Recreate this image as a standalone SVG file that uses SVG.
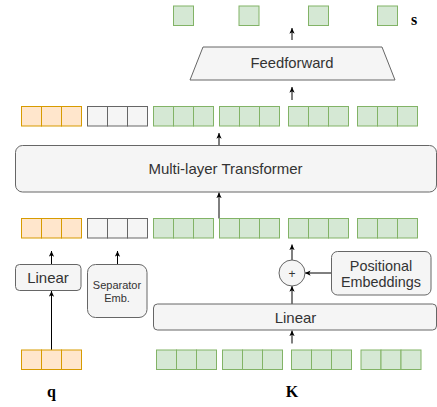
<svg xmlns="http://www.w3.org/2000/svg" width="437" height="407" viewBox="0 0 437 407">
<style>
.o{fill:#ffe6cc;stroke:#d79b00;stroke-width:1}
.g{fill:#f5f5f5;stroke:#666666;stroke-width:1}
.gr{fill:#d5e8d4;stroke:#82b366;stroke-width:1}
.box{fill:#f5f5f5;stroke:#666666;stroke-width:1}
.t{font-family:"Liberation Sans",Arial,sans-serif;fill:#333333;text-anchor:middle}
.m{font-family:"Liberation Serif","Times New Roman",serif;font-weight:bold;fill:#000;text-anchor:middle;font-size:16px}
.a{stroke:#000;stroke-width:1;fill:none;marker-end:url(#ah)}
</style>
<defs>
<marker id="ah" viewBox="0 0 8 8" refX="7.5" refY="4" markerWidth="6" markerHeight="6" markerUnits="userSpaceOnUse" orient="auto">
<path d="M0,0.5 L7.5,4 L0,7.5 L2,4 Z" fill="#000"/>
</marker>
<g id="c3o"><rect class="o" x="0" y="0" width="20" height="19.5"/><rect class="o" x="20" y="0" width="20" height="19.5"/><rect class="o" x="40" y="0" width="20" height="19.5"/></g>
<g id="c3g"><rect class="g" x="0" y="0" width="20" height="19.5"/><rect class="g" x="20" y="0" width="20" height="19.5"/><rect class="g" x="40" y="0" width="20" height="19.5"/></g>
<g id="c3gr"><rect class="gr" x="0" y="0" width="20" height="19.5"/><rect class="gr" x="20" y="0" width="20" height="19.5"/><rect class="gr" x="40" y="0" width="20" height="19.5"/></g>
</defs>

<g id="connectors">
<line class="a" x1="292" y1="40" x2="292" y2="28"/>
<line class="a" x1="292" y1="100" x2="292" y2="87"/>
<line class="a" x1="219" y1="145.5" x2="219" y2="133"/>
<line class="a" x1="219" y1="218.5" x2="219" y2="192.5"/>
<line class="a" x1="51.5" y1="264" x2="51.5" y2="251"/>
<line class="a" x1="117.5" y1="264" x2="117.5" y2="251"/>
<line class="a" x1="51.5" y1="350" x2="51.5" y2="291"/>
<line class="a" x1="292" y1="260" x2="292" y2="244.5"/>
<line class="a" x1="292" y1="304" x2="292" y2="286"/>
<line class="a" x1="331.5" y1="273" x2="305" y2="273"/>
<line class="a" x1="292" y1="343.5" x2="292" y2="330.5"/>
</g>

<g id="output-s">
<rect class="gr" x="173.5" y="6" width="20" height="19.5"/>
<rect class="gr" x="239" y="6" width="20" height="19.5"/>
<rect class="gr" x="308.5" y="6" width="20" height="19.5"/>
<rect class="gr" x="377.5" y="6" width="20" height="19.5"/>
<text class="m" x="414" y="25">s</text>
</g>

<g id="feedforward">
<polygon class="box" points="203,47 382,47 395,80 190,80"/>
<text class="t" x="292" y="68" font-size="14.8">Feedforward</text>
</g>

<g id="row-top">
<use href="#c3o" x="21.5" y="106.5"/>
<use href="#c3g" x="87.5" y="106.5"/>
<use href="#c3gr" x="153.5" y="106.5"/>
<use href="#c3gr" x="219.5" y="106.5"/>
<use href="#c3gr" x="288.5" y="106.5"/>
<use href="#c3gr" x="357.5" y="106.5"/>
</g>

<g id="transformer">
<rect class="box" x="15.5" y="145.5" width="421" height="46.5" rx="7"/>
<text class="t" x="225.5" y="174" font-size="15">Multi-layer Transformer</text>
</g>

<g id="row-input">
<use href="#c3o" x="21.5" y="218.5"/>
<use href="#c3g" x="87.5" y="218.5"/>
<use href="#c3gr" x="153.5" y="218.5"/>
<use href="#c3gr" x="219.5" y="218.5"/>
<use href="#c3gr" x="288.5" y="218.5"/>
<use href="#c3gr" x="357.5" y="218.5"/>
</g>

<g id="linear-q">
<rect class="box" x="15.5" y="264.5" width="65.5" height="26" rx="4"/>
<text class="t" x="48" y="283.3" font-size="15">Linear</text>
</g>

<g id="separator">
<rect class="box" x="87.5" y="264.5" width="59.5" height="53" rx="8"/>
<text class="t" x="117" y="288.5" font-size="11">Separator</text>
<text class="t" x="117" y="301.7" font-size="11">Emb.</text>
</g>

<g id="plus">
<circle class="box" cx="292" cy="273" r="13"/>
<text class="t" x="292" y="277.5" font-size="12">+</text>
</g>

<g id="positional">
<rect class="box" x="331.5" y="251.5" width="99.5" height="43.5" rx="6"/>
<text class="t" x="381" y="270.5" font-size="14.4">Positional</text>
<text class="t" x="381" y="287.3" font-size="14.4">Embeddings</text>
</g>

<g id="linear-k">
<rect class="box" x="153.5" y="304" width="283" height="26" rx="4"/>
<text class="t" x="295.5" y="323" font-size="15">Linear</text>
</g>

<g id="q">
<use href="#c3o" x="21.5" y="350"/>
<text class="m" x="51.5" y="396.5">q</text>
</g>

<g id="K">
<use href="#c3gr" x="156.5" y="350"/>
<use href="#c3gr" x="222.5" y="350"/>
<use href="#c3gr" x="291.5" y="350"/>
<use href="#c3gr" x="361" y="350"/>
<text class="m" x="292" y="397">K</text>
</g>
</svg>
